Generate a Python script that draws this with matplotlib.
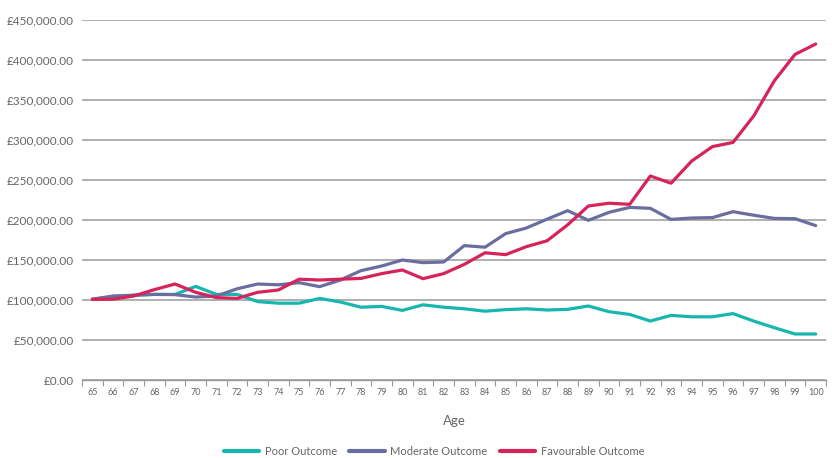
import matplotlib
matplotlib.use("Agg")
import matplotlib.pyplot as plt
from matplotlib.ticker import FuncFormatter, FixedLocator
import numpy as np

plt.rcParams['font.family'] = ['Lato', 'DejaVu Sans']

ages = list(range(65, 101))
poor = [101, 104, 106, 107, 107, 117, 107, 107, 98, 96, 96, 102, 97.5, 91, 92, 87,
        94, 91, 89, 86, 88, 89, 87.5, 88.3, 92.5, 85.4, 82, 73.7, 80.8, 79, 79, 83,
        73.7, 65.4, 57.5, 57.5]
moderate = [101, 105, 106, 107, 106.7, 103.7, 105, 114, 120, 119, 121.7, 116.7, 125, 136.7,
            142.5, 150, 146.7, 147.5, 168, 166, 183, 190, 201, 211.7, 199.6, 209.6, 215.8,
            214.6, 200.8, 202.5, 203, 210.4, 206, 202, 201.7, 193]
favourable = [100.8, 101, 105, 113, 120, 109.6, 103, 102, 109.6, 112.5, 126, 125, 126,
              127, 133, 137.5, 126.7, 133, 144.6, 159, 156.7, 166.7, 174, 194, 217.5, 221,
              219.6, 255, 246, 273.7, 291.7, 297, 330, 374, 407, 420]

series = [("Poor Outcome", poor, "#17B6AF"),
          ("Moderate Outcome", moderate, "#6A6DA0"),
          ("Favourable Outcome", favourable, "#D6245A")]

fig = plt.figure(figsize=(8.32, 4.58), dpi=100)
ax = fig.add_axes([0.0986, 0.1703, 0.8942, 0.786])

x = np.arange(len(ages))
for name, vals, col in series:
    ax.plot(x, np.array(vals) * 1000, color=col, lw=2.3, label=name,
            solid_capstyle='round', solid_joinstyle='round')

ax.set_xlim(-0.5, len(ages) - 0.5)
ax.set_ylim(0, 450000)
ax.yaxis.set_major_locator(FixedLocator(np.arange(0, 450001, 50000)))
ax.yaxis.set_major_formatter(FuncFormatter(lambda v, p: "£{:,.2f}".format(v)))
ax.grid(axis='y', color='#9a9a9a', lw=1.1)
ax.set_axisbelow(True)

ax.set_xticks(np.arange(-0.5, len(ages)), minor=False)
ax.set_xticklabels([])
ax.set_xticks(x, minor=True)
ax.set_xticklabels([str(a) for a in ages], minor=True)
ax.tick_params(axis='x', which='major', length=4, color='#999999', direction='out', width=0.8)
ax.tick_params(axis='x', which='minor', length=0, labelsize=6.5, labelcolor='#666666', pad=6)
ax.tick_params(axis='y', length=0, labelsize=8.5, labelcolor='#666666', pad=6)

for s in ['top', 'right', 'left']:
    ax.spines[s].set_visible(False)
ax.spines['bottom'].set_color('#999999')
ax.spines['bottom'].set_linewidth(1.0)

ax.set_xlabel("Age", fontsize=9.5, color='#666666', labelpad=13)

leg = fig.legend(loc='lower center', bbox_to_anchor=(0.5216, -0.02), ncol=3, frameon=False,
                 fontsize=8, handlelength=3.2, columnspacing=1.1, handletextpad=0.5)
for t in leg.get_texts():
    t.set_color('#666666')
for l in leg.get_lines():
    l.set_linewidth(3)

fig.savefig("out.png", dpi=100)
